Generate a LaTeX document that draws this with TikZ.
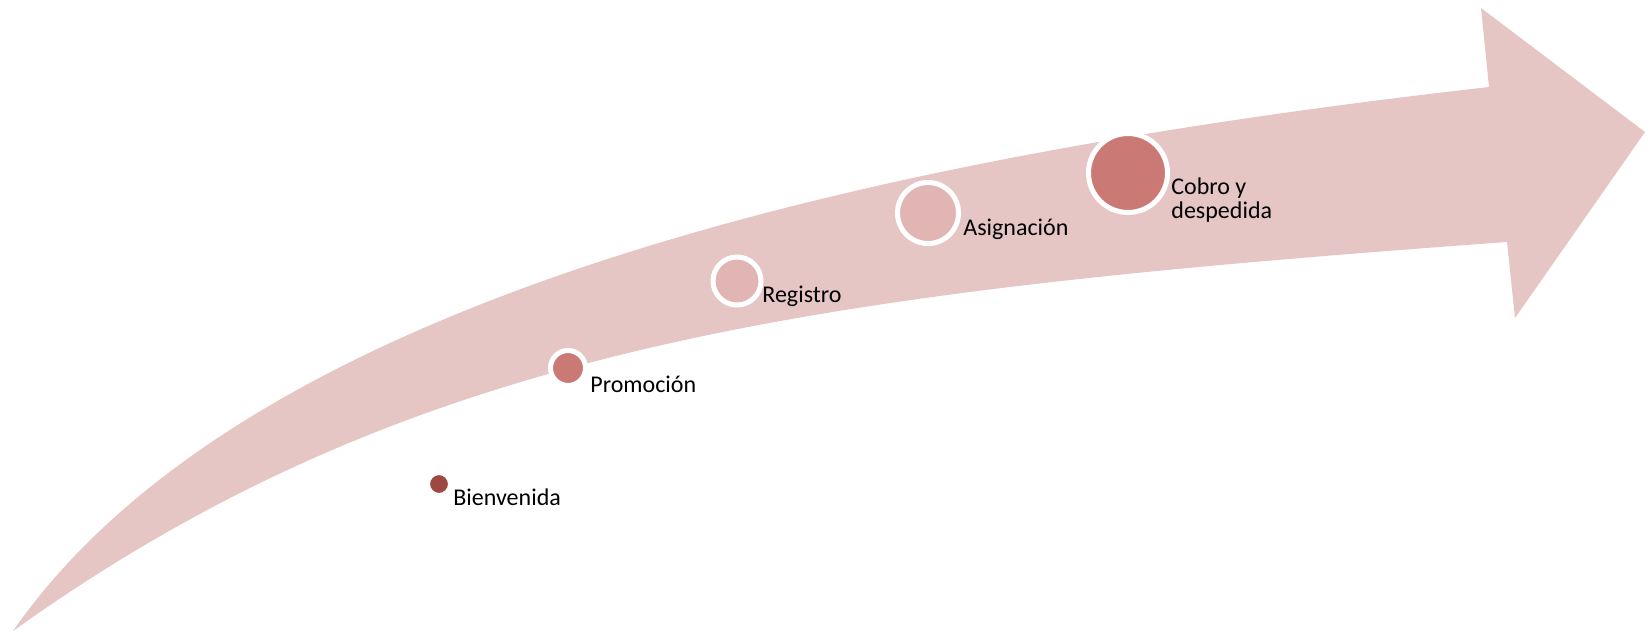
\documentclass[tikz,border=0pt]{standalone}
\usepackage{fontspec}
\setmainfont{Carlito}
\usepackage{xcolor}
\usetikzlibrary{positioning}

\definecolor{flecha}{RGB}{230,198,197}
\definecolor{rojooscuro}{RGB}{158,72,66}
\definecolor{rojomedio}{RGB}{203,121,116}
\definecolor{rosaclaro}{RGB}{224,181,179}

\tikzset{
	etapa/.style={circle, draw=white, line width=2.5pt, inner sep=0pt},
	rotulo/.style={anchor=base west, inner sep=0pt, align=left, font=\fontsize{12pt}{12pt}\selectfont}
}

\begin{document}
\begin{tikzpicture}[x=0.5pt, y=-0.5pt]
		\useasboundingbox (0,0) rectangle (1648,632);
		\fill[flecha] (13,631) .. controls (250,290) and (889,155) .. (1489,87)
			-- (1481,8) -- (1645,132) -- (1515,318) -- (1507,242)
			.. controls (807,293) and (413,345) .. (13,631) -- cycle;
		\foreach \n/\x/\y/\s/\c in {bienv/439/484/11.5/rojooscuro, promo/568/368/17.5/rojomedio, regis/737/281/24/rosaclaro, asign/928/213/30.5/rosaclaro, cobro/1128/173/39.5/rojomedio} {
			\node[etapa, fill=\c, minimum size=\s pt] (\n) at (\x,\y) {};
		}
		\foreach \n/\x/\y/\t in {bienv/453/505/Bienvenida, promo/590/392/Promoción, regis/762/302/Registro, asign/963/235/Asignación, cobro/1171/218/{Cobro y\\despedida}} {
			\node[rotulo] (l\n) at (\x,\y) {\t};
		}
	\end{tikzpicture}
\end{document}
